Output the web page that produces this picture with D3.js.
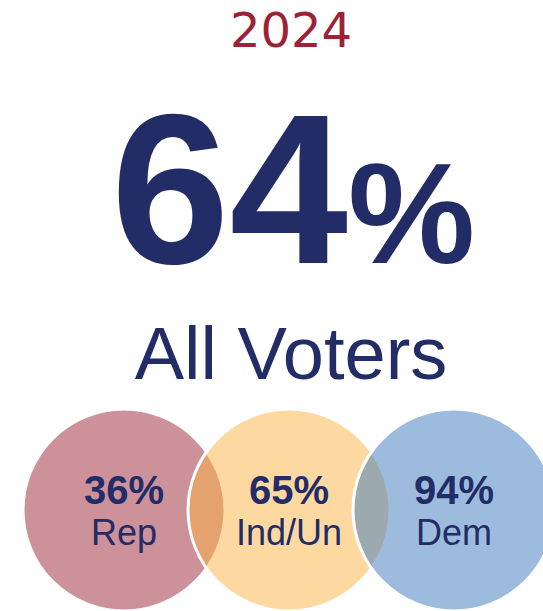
<!DOCTYPE html>
<html>
<head>
<meta charset="utf-8">
<script src="https://cdn.jsdelivr.net/npm/d3@7"></script>
<style>
body { margin: 0; background: #fff; }
</style>
</head>
<body>
<div id="chart-area"></div>
<script>
const YEAR = '2024'
const OVERALL = 64
const OVERALL_LABEL = 'All Voters'
const groups = ['Rep', 'Ind/Un', 'Dem']
const values = [36, 65, 94]
const groupColors = ['#9b2335', '#fbb343', '#3b79bb']

const WIDTH = 543
const HEIGHT = 611
const NAVY = '#222c66'

const svg = d3.select('#chart-area')
.append('svg')
.attr('width', WIDTH)
.attr('height', HEIGHT)

// year heading
svg.append('text')
.attr('x', 291)
.attr('y', 47)
.attr('text-anchor', 'middle')
.attr('font-family', 'DejaVu Sans')
.attr('font-size', 48)
.attr('fill', '#9b2335')
.text(YEAR)

// big overall number
const big = svg.append('text')
.attr('x', 293)
.attr('y', 263)
.attr('text-anchor', 'middle')
.attr('font-family', 'Liberation Sans, Arial')
.attr('font-weight', 'bold')
.attr('fill', NAVY)

big.append('tspan')
.attr('font-size', 213)
.text(OVERALL)

big.append('tspan')
.attr('font-size', 143)
.text('%')

svg.append('text')
.attr('x', 291)
.attr('y', 379)
.attr('text-anchor', 'middle')
.attr('font-family', 'Liberation Sans, Arial')
.attr('font-size', 74)
.attr('fill', NAVY)
.text(OVERALL_LABEL)

// party circles
const x = d3.scalePoint()
.domain(groups)
.range([124, 454])

const color = d3.scaleOrdinal()
.domain(groups)
.range(groupColors)

const R = 101
const CY = 510

const data = groups.map((g, i) => ({ group: g, value: values[i] }))

svg.selectAll('circle')
.data(data)
.enter().append('circle')
.attr('cx', d => x(d.group))
.attr('cy', CY)
.attr('r', R)
.attr('fill', d => color(d.group))
.attr('fill-opacity', 0.5)
.attr('stroke', '#fff')
.attr('stroke-width', 3)

const labels = svg.selectAll('.lbl')
.data(data)
.enter().append('g')
.attr('class', 'lbl')
.attr('transform', d => `translate(${x(d.group)},0)`)

labels.append('text')
.attr('y', 504)
.attr('text-anchor', 'middle')
.attr('font-family', 'Liberation Sans, Arial')
.attr('font-weight', 'bold')
.attr('font-size', 40)
.attr('fill', NAVY)
.text(d => d.value + '%')

labels.append('text')
.attr('y', 545)
.attr('text-anchor', 'middle')
.attr('font-family', 'Liberation Sans, Arial')
.attr('font-size', 36)
.attr('fill', NAVY)
.text(d => d.group)
</script>
</body>
</html>
